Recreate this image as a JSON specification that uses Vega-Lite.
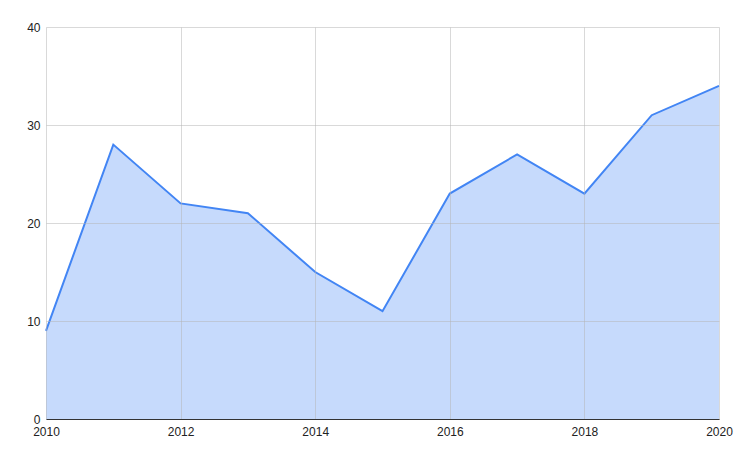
{
  "$schema": "https://vega.github.io/schema/vega-lite/v6.json",
  "autosize": "none",
  "width": 673,
  "height": 392,
  "padding": {"left": 46, "top": 27, "right": 21, "bottom": 37},
  "background": "white",
  "config": {
    "view": {"stroke": null},
    "axis": {"labelFont": "Liberation Sans", "labelFontSize": 12, "labelColor": "#222222", "ticks": false, "gridColor": "#b4b4b4", "gridOpacity": 0.5, "gridWidth": 1}
  },
  "data": {"values": [
    {"year": 2010, "value": 9},
    {"year": 2011, "value": 28},
    {"year": 2012, "value": 22},
    {"year": 2013, "value": 21},
    {"year": 2014, "value": 15},
    {"year": 2015, "value": 11},
    {"year": 2016, "value": 23},
    {"year": 2017, "value": 27},
    {"year": 2018, "value": 23},
    {"year": 2019, "value": 31},
    {"year": 2020, "value": 34}
  ]},
  "encoding": {
    "x": {"field": "year", "type": "quantitative", "scale": {"domain": [2010, 2020], "nice": false, "zero": false},
      "axis": {"title": null, "values": [2010, 2012, 2014, 2016, 2018, 2020], "format": "d", "labelPadding": 7, "domain": true, "domainColor": "#333333", "domainWidth": 1, "zindex": 1, "labelFlush": false}},
    "y": {"field": "value", "type": "quantitative", "scale": {"domain": [0, 40], "nice": false},
      "axis": {"title": null, "values": [0, 10, 20, 30, 40], "domain": false, "labelPadding": 6, "zindex": 1}}
  },
  "layer": [
    {"mark": {"type": "area", "color": "#c6dafc", "opacity": 1}},
    {"mark": {"type": "line", "color": "#4285f4", "strokeWidth": 2}}
  ]
}
